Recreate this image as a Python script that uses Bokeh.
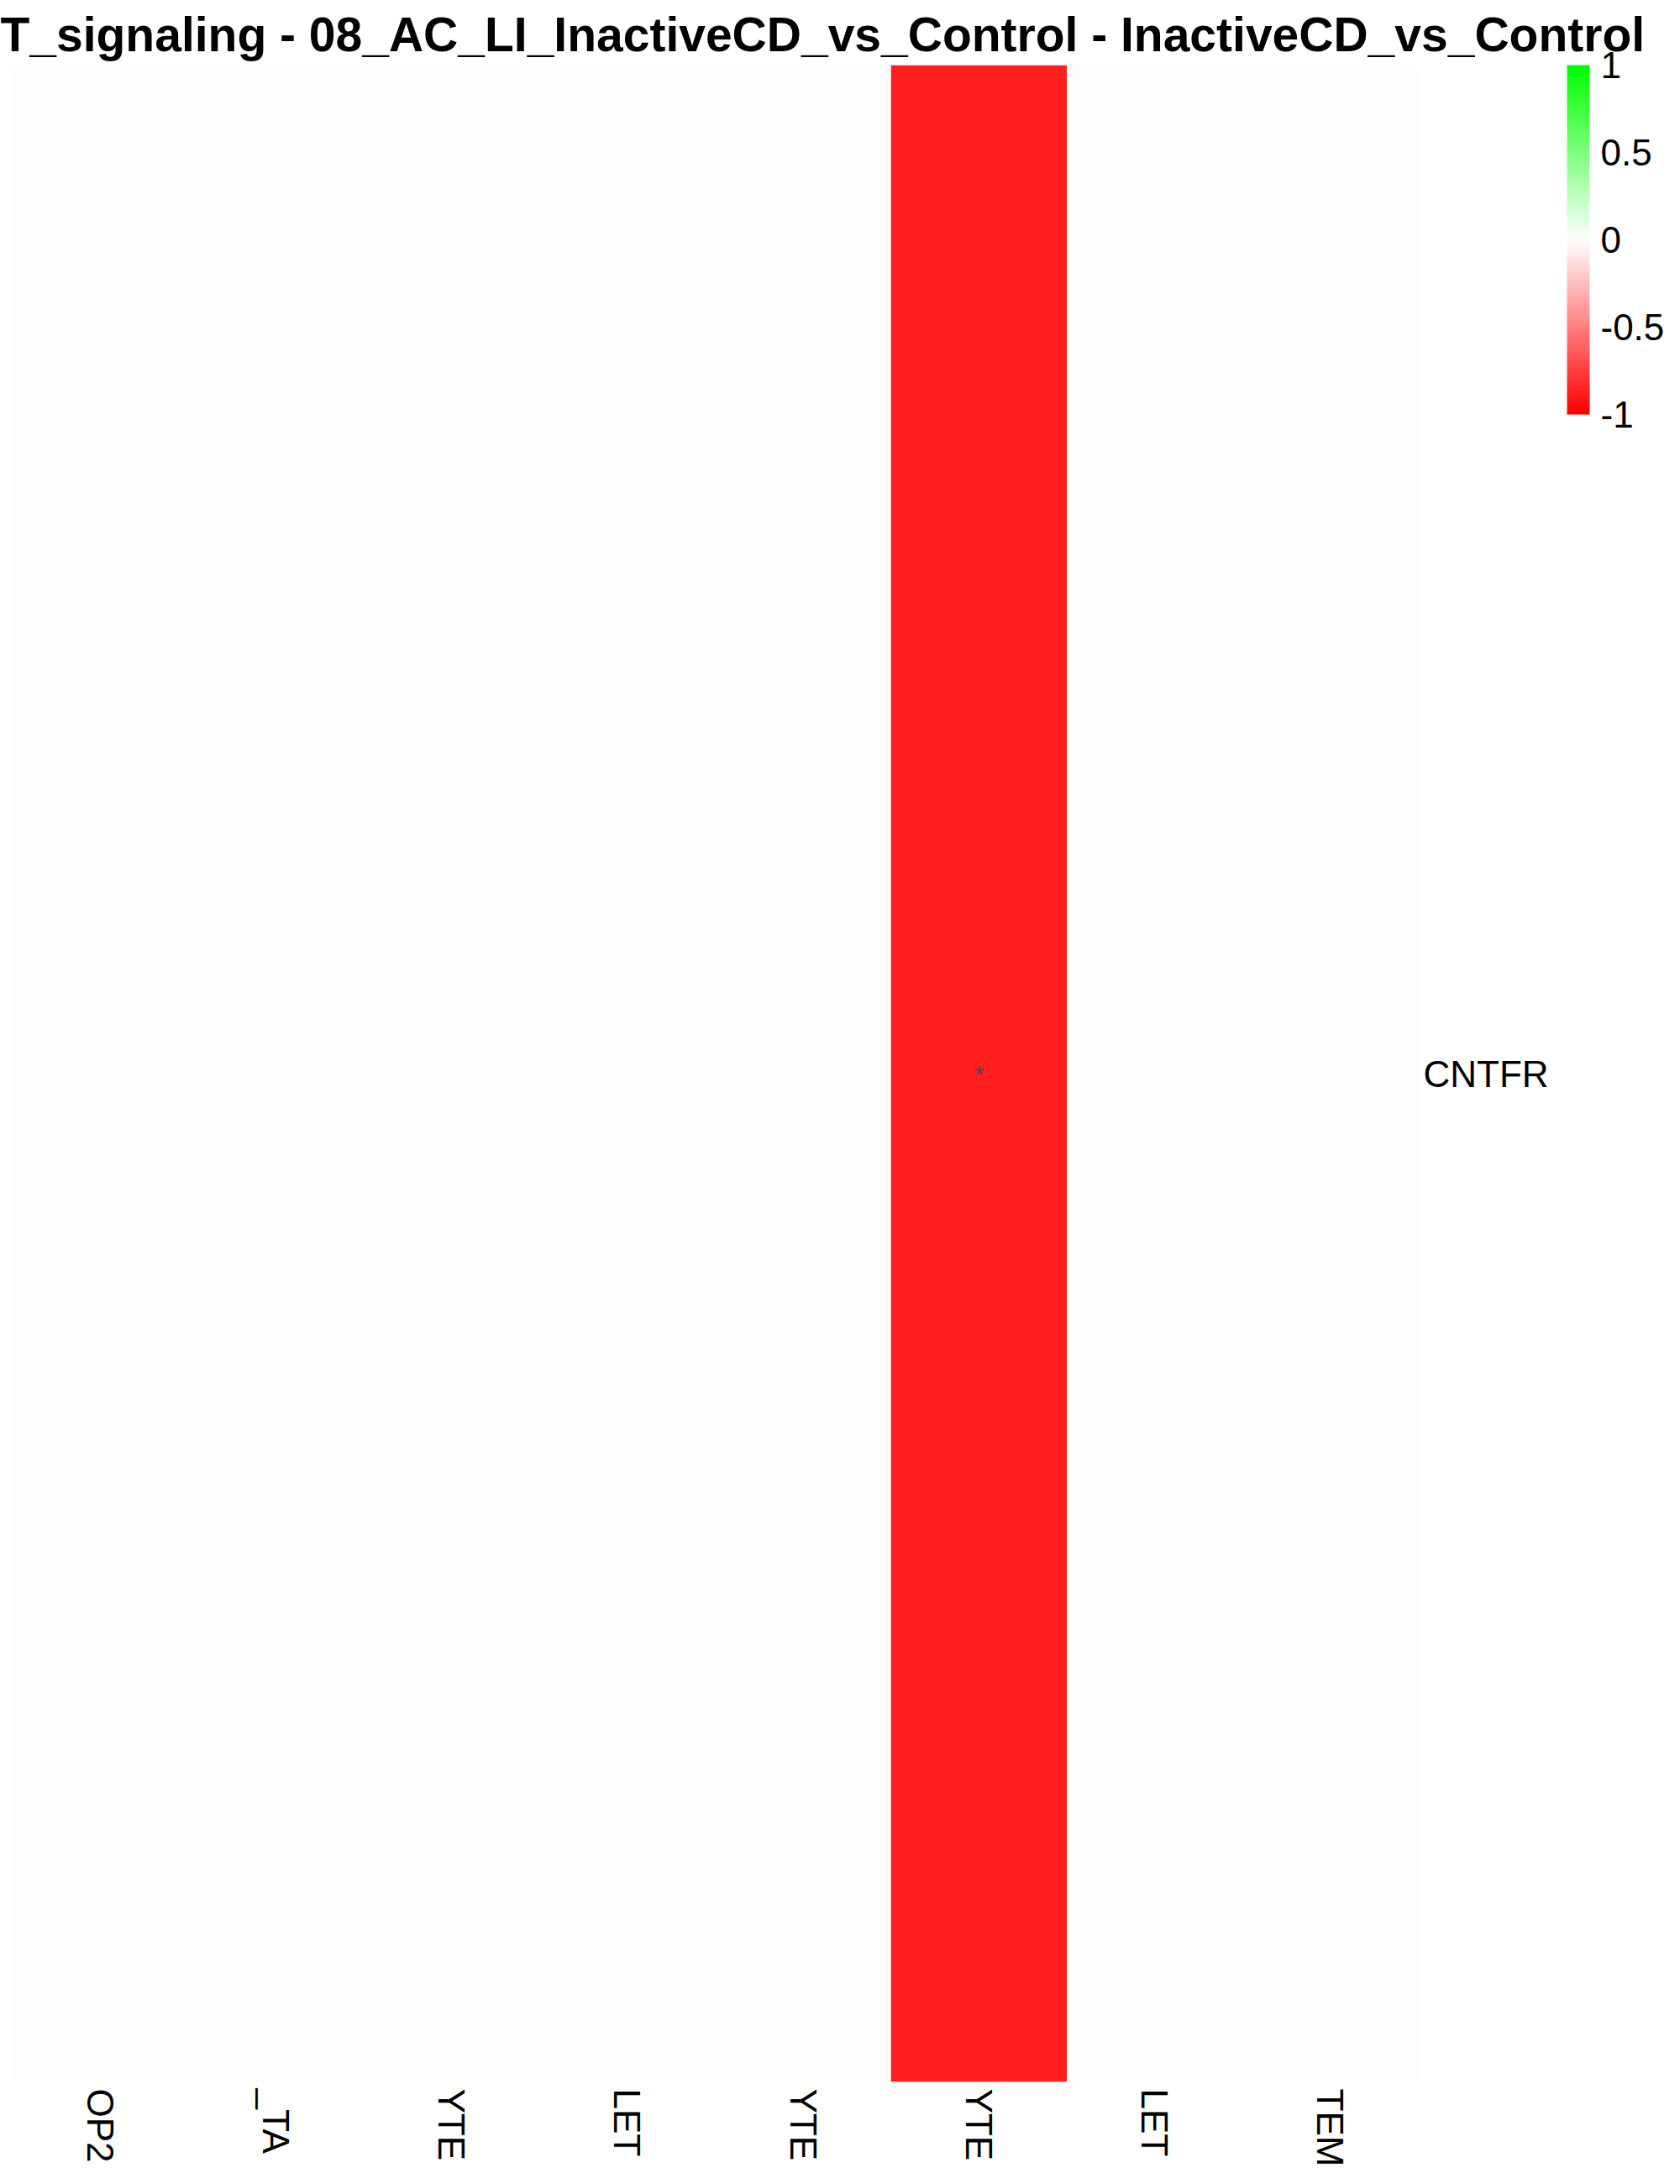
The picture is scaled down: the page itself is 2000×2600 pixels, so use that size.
import math
from bokeh.plotting import figure
from bokeh.models import (ColumnDataSource, LinearColorMapper, ColorBar, FixedTicker,
                          Range1d, FactorRange, Title)
from bokeh.core.properties import value
from bokeh.embed import file_html
from bokeh.resources import INLINE

# ---------------- data ----------------
title_text = "T_signaling - 08_AC_LI_InactiveCD_vs_Control - InactiveCD_vs_Control"
columns = ["OP2", "_TA", "YTE", "LET", "YTE", "YTE", "LET", "TEM"]
rows = ["CNTFR"]
values = [0.0, 0.0, 0.0, 0.0, 0.0, -0.87, 0.0, 0.0]
stars = ["", "", "", "", "", "*", "", ""]
legend_ticks = [-1, -0.5, 0, 0.5, 1]
legend_labels = ["-1", "-0.5", "0", "0.5", "1"]

# ---------------- style ----------------
W, H = 2000, 2600
FL, FR, FT, FB = 14, 1688, 77, 2478
FONT = "Liberation Sans"


def hexc(r, g, b):
    return "#%02X%02X%02X" % (int(round(r)), int(round(g)), int(round(b)))


n = 101
palette = []
for i in range(n):
    t = i / (n - 1)
    if t < 0.5:
        s = t / 0.5
        palette.append(hexc(255, 255 * s, 255 * s))
    elif t == 0.5:
        palette.append("#FEFDFB")
    else:
        s = (t - 0.5) / 0.5
        palette.append(hexc(255 * (1 - s), 255, 255 * (1 - s)))

mapper = LinearColorMapper(palette=palette, low=-1, high=1)

src = ColumnDataSource(dict(
    x=[i + 0.5 for i in range(len(columns))],
    y=[rows[0]] * len(columns),
    v=values,
    star=stars,
))

p = figure(width=W, height=H, output_backend="svg", toolbar_location=None,
           x_range=Range1d(0, len(columns)), y_range=FactorRange(*rows),
           x_axis_location="below", y_axis_location="right",
           min_border_left=FL, min_border_right=W - FR,
           min_border_top=FT, min_border_bottom=H - FB)
p.outline_line_color = None
p.background_fill_color = "white"
p.border_fill_color = "white"
p.grid.visible = False

p.rect(x="x", y="y", width=1, height=1, source=src,
       fill_color={"field": "v", "transform": mapper}, line_color=None)
p.text(x="x", y="y", text="star", source=src, text_align="center",
       text_baseline="middle", text_font=value(FONT), text_font_size="30px",
       text_color="#4D4D4D")

# x axis (column labels)
xa = p.xaxis[0]
xa.ticker = FixedTicker(ticks=[i + 0.5 for i in range(len(columns))])
xa.major_label_overrides = {i + 0.5: lab for i, lab in enumerate(columns)}
xa.major_label_orientation = -math.pi / 2
xa.major_label_text_font = FONT
xa.major_label_text_font_size = "44px"
xa.major_label_text_color = "black"
xa.major_label_standoff = 8
xa.axis_line_color = None
xa.major_tick_line_color = None
xa.minor_tick_line_color = None
xa.major_tick_out = 0
xa.major_tick_in = 0

# y axis (row labels)
ya = p.yaxis[0]
ya.major_label_text_font = FONT
ya.major_label_text_font_size = "44px"
ya.major_label_text_color = "black"
ya.major_label_standoff = 6
ya.axis_line_color = None
ya.major_tick_line_color = None
ya.minor_tick_line_color = None
ya.major_tick_out = 0
ya.major_tick_in = 0

# title
p.title = Title(text=title_text, align="left", offset=-FL, text_font=FONT,
                text_font_style="bold", text_font_size="57px", text_color="black",
                standoff=10)

# legend colour bar
cb = ColorBar(color_mapper=mapper, ticker=FixedTicker(ticks=legend_ticks),
              major_label_overrides={t: l for t, l in zip(legend_ticks, legend_labels)},
              width=27, height=416, padding=0, margin=0,
              location=(1865 - FL, FB - 493), orientation="vertical",
              major_tick_line_color=None, minor_tick_line_color=None,
              bar_line_color=None, border_line_color=None,
              background_fill_color=None, label_standoff=13,
              major_label_text_font=FONT, major_label_text_font_size="44px",
              major_label_text_color="black")
p.add_layout(cb, "center")

open("out.html", "w").write(file_html(p, INLINE))
